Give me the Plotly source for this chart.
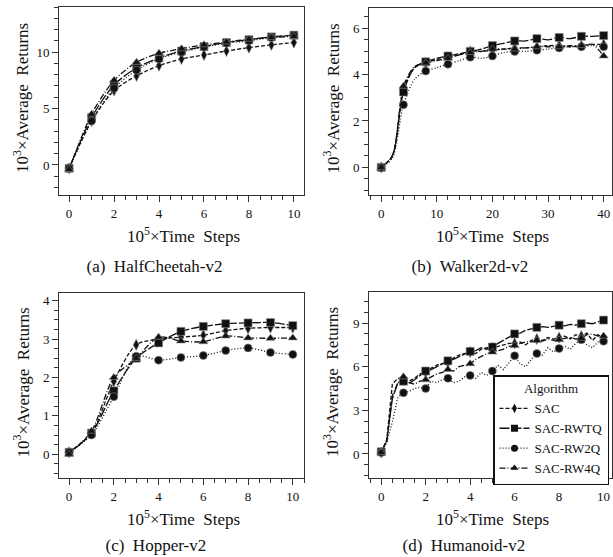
import plotly.graph_objects as go

W, H = 613, 557
FONT = "Liberation Serif, DejaVu Serif, serif"
INK = "#111111"

ALGOS = ["SAC", "SAC-RWTQ", "SAC-RW2Q", "SAC-RW4Q"]
DASH = {"SAC": "4px,2px", "SAC-RWTQ": "10px,2px", "SAC-RW2Q": "1px,2px", "SAC-RW4Q": "6px,2px,1px,2px"}
SYMBOL = {"SAC": "diamond-tall", "SAC-RWTQ": "square", "SAC-RW2Q": "circle", "SAC-RW4Q": "triangle-up"}

# (a) HalfCheetah-v2
cheetah_x = [0, 1, 2, 3, 4, 5, 6, 7, 8, 9, 10]
cheetah_sac = [-0.3, 3.9, 6.6, 7.9, 8.8, 9.4, 9.75, 10.1, 10.4, 10.65, 10.85]
cheetah_rwtq = [-0.3, 4.2, 7.1, 8.6, 9.5, 10.1, 10.5, 10.85, 11.1, 11.35, 11.5]
cheetah_rw2q = [-0.3, 3.9, 6.8, 8.4, 9.4, 10.0, 10.45, 10.8, 11.0, 11.3, 11.5]
cheetah_rw4q = [-0.4, 4.5, 7.5, 9.1, 9.9, 10.3, 10.65, 10.9, 11.15, 11.3, 11.4]

# (b) Walker2d-v2
walker_x = [0, 2, 4, 6, 8, 10, 12, 14, 16, 18, 20, 22, 24, 26, 28, 30, 32, 34, 36, 38, 40]
walker_sac = [0, 0.5, 3.4, 4.3, 4.5, 4.65, 4.75, 4.85, 5.0, 5.0, 5.05, 5.1, 5.15, 5.15, 5.2, 5.25, 5.25, 5.2, 5.25, 5.3, 5.3]
walker_rwtq = [0, 0.5, 3.25, 4.3, 4.55, 4.7, 4.8, 4.9, 5.0, 5.1, 5.25, 5.35, 5.45, 5.45, 5.55, 5.5, 5.6, 5.55, 5.65, 5.65, 5.68]
walker_rw2q = [0, 0.4, 2.7, 3.8, 4.15, 4.3, 4.45, 4.6, 4.75, 4.7, 4.8, 4.95, 5.0, 5.0, 5.05, 5.1, 5.15, 5.2, 5.2, 5.25, 5.2]
walker_rw4q = [0, 0.5, 3.5, 4.35, 4.5, 4.6, 4.7, 4.85, 4.95, 5.0, 5.1, 5.1, 5.1, 5.15, 5.2, 5.2, 5.2, 5.25, 5.25, 5.3, 4.8]

# (c) Hopper-v2
hopper_x = [0, 1, 2, 3, 4, 5, 6, 7, 8, 9, 10]
hopper_sac = [0.05, 0.55, 1.9, 2.85, 3.0, 3.05, 3.1, 3.22, 3.28, 3.3, 3.3]
hopper_rwtq = [0.05, 0.55, 1.65, 2.5, 2.9, 3.2, 3.33, 3.4, 3.42, 3.43, 3.35]
hopper_rw2q = [0.05, 0.5, 1.5, 2.55, 2.45, 2.52, 2.57, 2.7, 2.77, 2.65, 2.6]
hopper_rw4q = [0.0, 0.6, 2.0, 2.5, 3.05, 2.95, 2.93, 3.08, 3.03, 3.02, 3.03]

# (d) Humanoid-v2
humanoid_x = [i * 0.25 for i in range(41)]
humanoid_sac = [0.1, 1.0, 4.8, 5.2, 5.1, 5.0, 5.2, 5.5, 5.6, 5.9, 6.1, 6.2, 6.3, 6.6, 6.8, 6.9, 7.0, 6.9, 7.2, 7.3,
                7.3, 7.4, 7.5, 7.6, 7.6, 7.7, 7.5, 7.8, 7.9, 7.8, 8.0, 7.9, 8.0, 8.1, 7.9, 8.2, 8.1, 8.3, 7.8, 8.2, 7.9]
humanoid_rwtq = [0.15, 0.9, 3.8, 4.9, 5.0, 4.85, 5.1, 5.4, 5.7, 5.8, 6.0, 6.2, 6.4, 6.5, 6.7, 6.9, 7.05, 7.1, 7.3, 7.2,
                 7.35, 7.6, 7.8, 8.0, 8.25, 8.3, 8.5, 8.6, 8.7, 8.75, 8.7, 8.8, 8.85, 8.8, 8.9, 8.85, 8.95, 9.0, 8.95, 9.1, 9.2]
humanoid_rw2q = [0.1, 0.8, 2.2, 3.9, 4.2, 4.3, 4.5, 4.6, 4.5, 5.0, 4.9, 5.1, 5.2, 4.9, 5.0, 5.3, 5.4, 5.2, 5.6, 5.4,
                 5.7, 6.1, 5.8, 6.3, 6.75, 6.2, 6.0, 6.5, 6.9, 6.8, 7.3, 7.0, 7.25, 7.4, 7.2, 7.6, 7.85, 7.5, 7.3, 7.7, 7.75]
humanoid_rw4q = [0.1, 0.9, 4.0, 4.9, 5.3, 4.9, 4.8, 5.0, 5.1, 5.3, 5.5, 5.6, 5.8, 5.7, 6.0, 6.1, 6.2, 6.5, 6.7, 6.9,
                 7.0, 7.1, 7.2, 7.4, 7.45, 7.6, 7.7, 7.7, 7.8, 7.75, 7.9, 7.8, 7.85, 7.9, 8.0, 7.9, 7.95, 8.2, 8.25, 8.1, 8.1]

panels = [
    # axis suffix, x, series, marker stride, line shape
    ("", cheetah_x, [cheetah_sac, cheetah_rwtq, cheetah_rw2q, cheetah_rw4q], 1, "spline"),
    ("2", walker_x, [walker_sac, walker_rwtq, walker_rw2q, walker_rw4q], 2, "spline"),
    ("3", hopper_x, [hopper_sac, hopper_rwtq, hopper_rw2q, hopper_rw4q], 1, "spline"),
    ("4", humanoid_x, [humanoid_sac, humanoid_rwtq, humanoid_rw2q, humanoid_rw4q], 4, "linear"),
]


def px(x):
    return x / W


def py(y):
    return 1 - y / H


fig = go.Figure()

for suffix, xs, series, stride, shape in panels:
    xa, ya = "x" + suffix, "y" + suffix
    for name, ys in zip(ALGOS, series):
        fig.add_trace(go.Scatter(
            x=xs, y=ys, mode="lines", xaxis=xa, yaxis=ya, showlegend=False,
            line=dict(color=INK, width=1.3, dash=DASH[name], shape=shape, smoothing=0.8),
        ))
    for name, ys in zip(ALGOS, series):
        fig.add_trace(go.Scatter(
            x=xs[::stride], y=ys[::stride], mode="markers", xaxis=xa, yaxis=ya, showlegend=False,
            marker=dict(color=INK, size=8, symbol=SYMBOL[name], line=dict(color="#888", width=0.6)),
        ))

# legend entries only
for name in ALGOS:
    fig.add_trace(go.Scatter(
        x=[None], y=[None], mode="lines+markers", name=name, xaxis="x4", yaxis="y4",
        line=dict(color=INK, width=1.3, dash=DASH[name]),
        marker=dict(color=INK, size=7, symbol=SYMBOL[name]),
    ))

axis_common = dict(
    showline=True, linecolor="#333", linewidth=1, mirror=True, showgrid=False, zeroline=False,
    ticks="outside", ticklen=6, tickcolor="#333", tickwidth=1,
    tickfont=dict(family=FONT, size=13, color=INK),
)

boxes = {  # pixel boxes: left, right, top, bottom
    "": (59, 304, 7, 195),
    "2": (369, 612, 8, 195),
    "3": (59, 304, 293, 478),
    "4": (369, 612, 292, 478),
}
xranges = {"": [-0.45, 10.45], "2": [-2.2, 41.5], "3": [-0.45, 10.5], "4": [-0.55, 10.38]}
yranges = {"": [-2.66, 14.0], "2": [-1.19, 6.87], "3": [-0.62, 4.2], "4": [-1.65, 11.13]}
xticks = {"": (2, 0.5), "2": (10, 2), "3": (2, 0.5), "4": (2, 0.5)}
yticks = {"": (5, 1), "2": (2, 0.5), "3": (1, 0.25), "4": (3, 0.75)}

layout_axes = {}
for s, (l, r, t, b) in boxes.items():
    layout_axes["xaxis" + s] = dict(
        axis_common, domain=[px(l), px(r)], range=xranges[s], anchor="y" + s,
        tick0=0, dtick=xticks[s][0],
        minor=dict(ticks="outside", ticklen=4, tickcolor="#333", dtick=xticks[s][1], tick0=0, showgrid=False),
    )
    layout_axes["yaxis" + s] = dict(
        axis_common, domain=[py(b), py(t)], range=yranges[s], anchor="x" + s,
        tick0=0, dtick=yticks[s][0],
        minor=dict(ticks="outside", ticklen=4, tickcolor="#333", dtick=yticks[s][1], tick0=0, showgrid=False),
    )

fig.update_layout(**layout_axes)

annotations = []
captions = ["a", "b", "c", "d"]
names = ["HalfCheetah-v2", "Walker2d-v2", "Hopper-v2", "Humanoid-v2"]
caption_x = [150, 465, 151, 459]
caption_y = [266, 266, 545, 545]
for (s, (l, r, t, b)), letter, env, cx, cy in zip(boxes.items(), captions, names, caption_x, caption_y):
    annotations.append(dict(
        text="10<sup>5</sup>×Time\u2002Steps", x=px((l + r) / 2 + 2), y=py(b + 40),
        xref="paper", yref="paper", xanchor="center", yanchor="middle", showarrow=False,
        font=dict(family=FONT, size=17, color=INK),
    ))
    annotations.append(dict(
        text="10<sup>3</sup>×Average\u2002Returns", x=px(l - 38), y=py((t + b) / 2 - 3),
        xref="paper", yref="paper", xanchor="center", yanchor="middle", showarrow=False, textangle=-90,
        font=dict(family=FONT, size=17, color=INK),
    ))
    annotations.append(dict(
        text=f"\u2002({letter})\u2002{env}",
        x=px(cx), y=py(cy), xref="paper", yref="paper", xanchor="center", yanchor="middle",
        showarrow=False, font=dict(family=FONT, size=17, color=INK),
    ))

fig.update_layout(
    width=W, height=H,
    margin=dict(l=0, r=0, t=0, b=0, autoexpand=False),
    paper_bgcolor="white", plot_bgcolor="white",
    font=dict(family=FONT, color=INK),
    annotations=annotations,
    legend=dict(
        x=px(609), y=py(430), xanchor="right", yanchor="middle",
        bgcolor="white", bordercolor=INK, borderwidth=1.5,
        font=dict(family=FONT, size=13, color=INK),
        title=dict(text="Algorithm", side="top center", font=dict(family=FONT, size=13, color=INK)),
        tracegroupgap=0, itemwidth=30,
    ),
)

fig.write_html("out.html", config={"displayModeBar": False},
               post_script="document.body.style.margin = '0px';")
